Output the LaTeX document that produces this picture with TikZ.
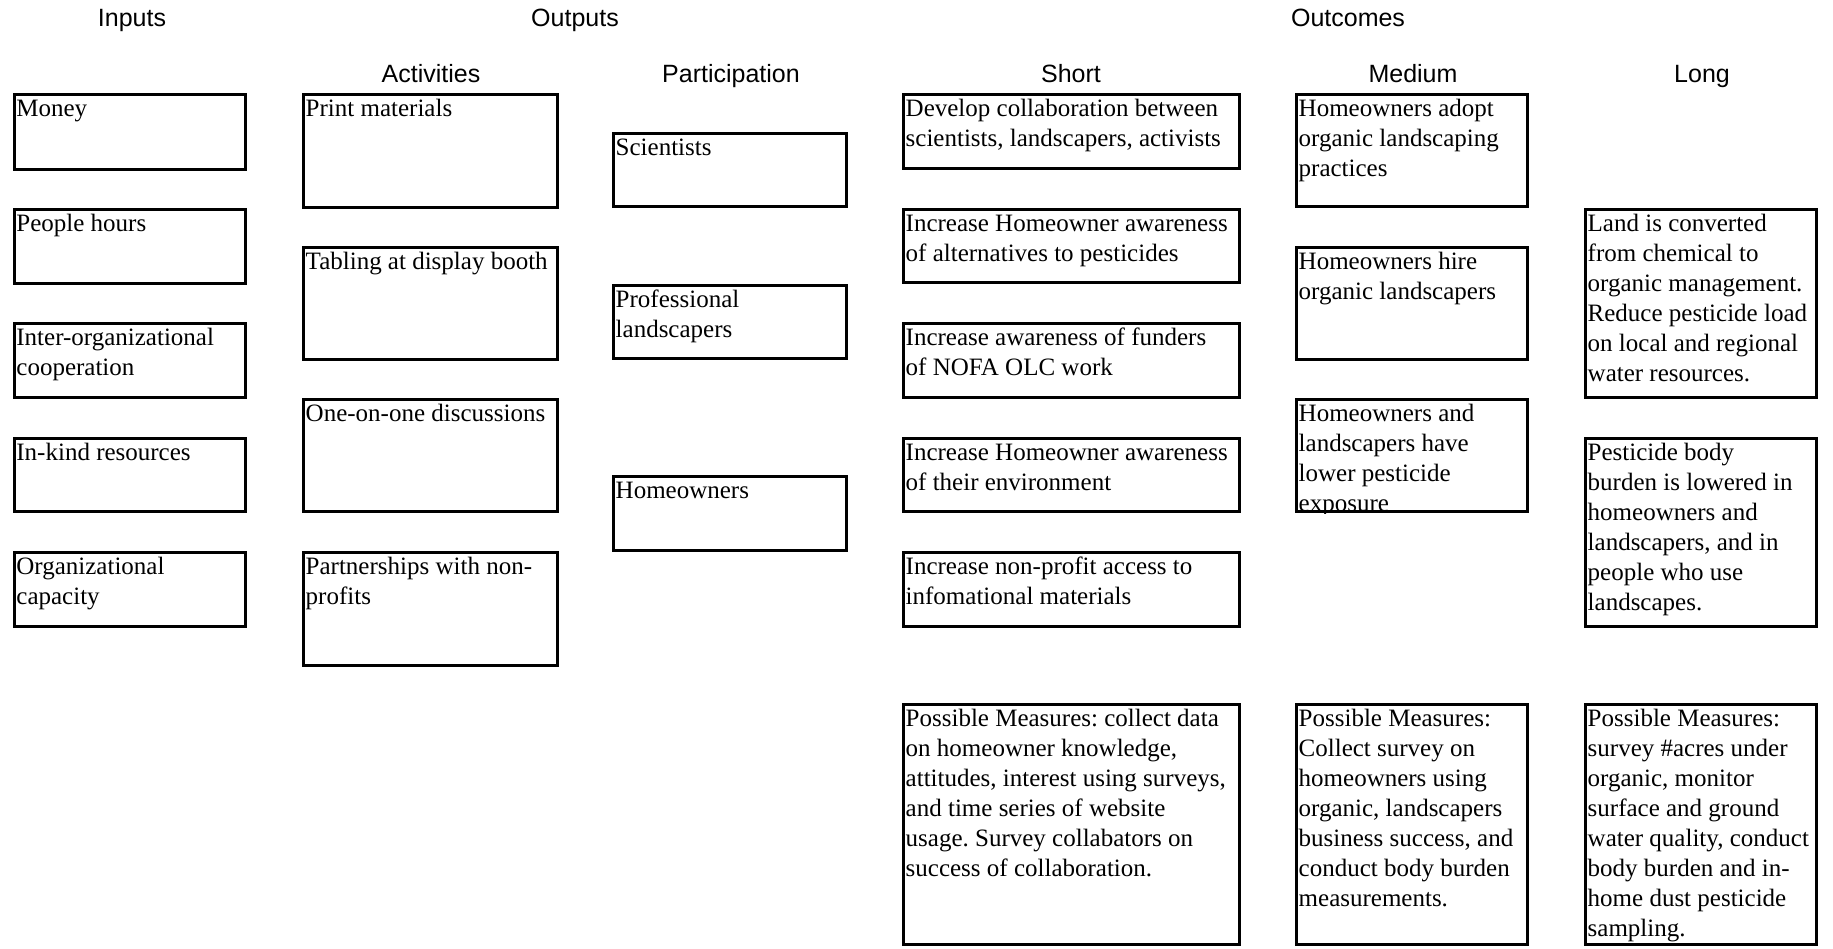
\documentclass[tikz,border=0pt]{standalone}
\usepackage{fontspec}
\setmainfont{Liberation Serif}
\setsansfont{Liberation Sans}
\usetikzlibrary{fit}
\frenchspacing
\tikzset{
  boxst/.style={draw=black, line width=3pt, inner sep=0pt, rectangle},
  txt/.style={anchor=north west, inner sep=0pt, align=left, font=\fontsize{25}{30}\selectfont},
  ttl/.style={anchor=base, inner sep=0pt, font=\sffamily\fontsize{25}{30}\selectfont}
}
\newcommand\mybox[6]{%
  \node[boxst, fit={(#2+1.5,#3+1.5) (#4-1.5,#5-1.5)}] (#1) {};
  \node[txt] (#1-t) at ([xshift=3.5pt,yshift=-5.5pt]#1.north west) {\rule{0pt}{18pt}#6};
}
\begin{document}
\begin{tikzpicture}[x=1pt,y=-1pt]
\useasboundingbox (0,0) rectangle (1833,948);
\fill[white] (0,0) rectangle (1833,948);

% titles
\node[ttl] (tInputs) at (132,26) {Inputs};
\node[ttl] (tOutputs) at (575,26) {Outputs};
\node[ttl] (tOutcomes) at (1348,26) {Outcomes};
\node[ttl] (tAct) at (431,82) {Activities};
\node[ttl] (tPart) at (731,82) {Participation};
\node[ttl] (tShort) at (1071,82) {Short};
\node[ttl] (tMed) at (1413,82) {Medium};
\node[ttl] (tLong) at (1702,82) {Long};

% inputs
\mybox{in1}{12.7}{93}{247}{171}{Money}
\mybox{in2}{12.7}{208}{247}{285}{People hours}
\mybox{in3}{12.7}{322}{247}{399}{Inter-organizational\\cooperation}
\mybox{in4}{12.7}{437}{247}{513}{In-kind resources}
\mybox{in5}{12.7}{551}{247}{628}{Organizational\\capacity}

% activities
\mybox{ac1}{302}{93}{559}{209}{Print materials}
\mybox{ac2}{302}{246}{559}{361}{Tabling at display booth}
\mybox{ac3}{302}{398}{559}{513}{One-on-one discussions}
\mybox{ac4}{302}{551}{559}{667}{Partnerships with non-\\profits}

% participation
\mybox{pa1}{612}{132}{848}{208}{Scientists}
\mybox{pa2}{612}{284}{848}{360}{Professional\\landscapers}
\mybox{pa3}{612}{475}{848}{552}{Homeowners}

% short
\mybox{sh1}{902}{93}{1241}{170}{Develop collaboration between\\scientists, landscapers, activists}
\mybox{sh2}{902}{208}{1241}{284}{Increase Homeowner awareness\\of alternatives to pesticides}
\mybox{sh3}{902}{322}{1241}{399}{Increase awareness of funders\\of NOFA OLC work}
\mybox{sh4}{902}{437}{1241}{513}{Increase Homeowner awareness\\of their environment}
\mybox{sh5}{902}{551}{1241}{628}{Increase non-profit access to\\infomational materials}
\mybox{shm}{902}{703}{1241}{946}{Possible Measures: collect data\\on homeowner knowledge,\\attitudes, interest using surveys,\\and time series of website\\usage. Survey collabators on\\success of collaboration.}

% medium
\mybox{me1}{1295}{93}{1529}{208}{Homeowners adopt\\organic landscaping\\practices}
\mybox{me2}{1295}{246}{1529}{361}{Homeowners hire\\organic landscapers}
\node[boxst, fit={(1296.5,399.5) (1527.5,511.5)}] (me3) {};
\begin{scope}
  \clip (me3.north west) rectangle (me3.south east);
  \node[txt] (me3-t) at ([xshift=3.5pt,yshift=-5.5pt]me3.north west) {\rule{0pt}{18pt}Homeowners and\\landscapers have\\lower pesticide\\exposure};
\end{scope}
\mybox{mem}{1295}{703}{1529}{946}{Possible Measures:\\Collect survey on\\homeowners using\\organic, landscapers\\business success, and\\conduct body burden\\measurements.}

% long
\mybox{lo1}{1584}{208}{1818}{399}{Land is converted\\from chemical to\\organic management.\\Reduce pesticide load\\on local and regional\\water resources.}
\mybox{lo2}{1584}{437}{1818}{628}{Pesticide body\\burden is lowered in\\homeowners and\\landscapers, and in\\people who use\\landscapes.}
\mybox{lom}{1584}{703}{1818}{946}{Possible Measures:\\survey \#acres under\\organic, monitor\\surface and ground\\water quality, conduct\\body burden and in-\\home dust pesticide\\sampling.}
\end{tikzpicture}
\end{document}
